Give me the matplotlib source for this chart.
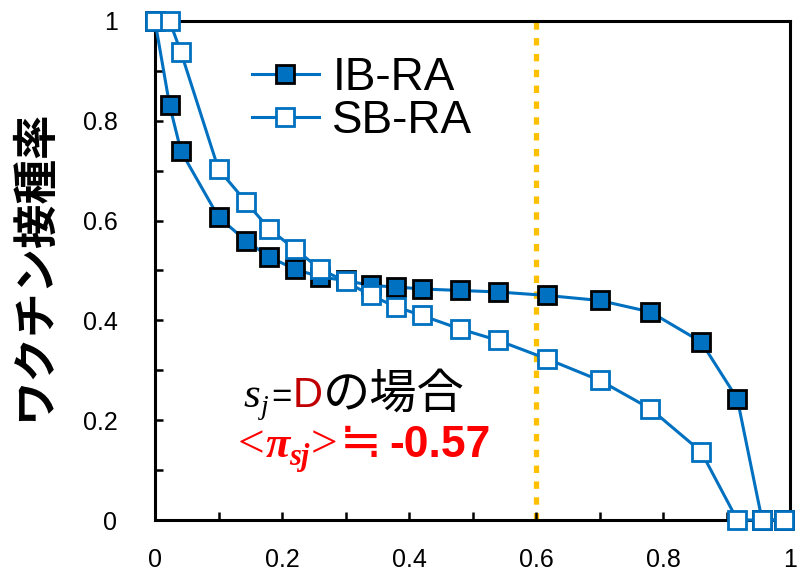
import matplotlib
matplotlib.use("Agg")
import matplotlib.pyplot as plt
from matplotlib.ticker import MultipleLocator, FuncFormatter

plt.rcParams['font.family'] = ['Liberation Sans', 'Noto Sans CJK JP', 'DejaVu Sans']

# ---- data ----
x_vals = [0, 0.023, 0.041, 0.10, 0.143, 0.18, 0.22, 0.26, 0.30, 0.34, 0.38,
          0.42, 0.48, 0.54, 0.617, 0.70, 0.78, 0.86, 0.917, 0.956, 0.99]
ib_ra = [1.0, 0.831, 0.739, 0.607, 0.56, 0.527, 0.503, 0.487, 0.48, 0.47, 0.467,
         0.463, 0.46, 0.457, 0.45, 0.44, 0.417, 0.357, 0.243, 0.0, 0.0]
sb_ra = [1.0, 1.0, 0.937, 0.703, 0.638, 0.583, 0.543, 0.503, 0.478, 0.45, 0.427,
         0.41, 0.383, 0.36, 0.323, 0.28, 0.223, 0.137, 0.0, 0.0, 0.0]
series_names = ["IB-RA", "SB-RA"]
threshold_x = 0.6
x_ticks = [0, 0.2, 0.4, 0.6, 0.8, 1.0]
y_ticks = [0, 0.2, 0.4, 0.6, 0.8, 1.0]
y_label = "ワクチン接種率"

BLUE = "#0070C0"

fig = plt.figure(figsize=(7.98, 5.73), dpi=100)
ax = fig.add_axes([155/798, 53/573, 635/798, 499/573])

ax.axvline(threshold_x, color="#FFC000", lw=3.8, linestyle=(0, (1.4, 1.6)),
           dash_capstyle="butt", zorder=1)

ax.plot(x_vals, ib_ra, color=BLUE, lw=2.2, marker="s", markersize=13,
        markerfacecolor=BLUE, markeredgecolor="black", markeredgewidth=2.0,
        clip_on=False, zorder=3, label=series_names[0])
ax.plot(x_vals, sb_ra, color=BLUE, lw=2.2, marker="s", markersize=13,
        markerfacecolor="white", markeredgecolor=BLUE, markeredgewidth=2.0,
        clip_on=False, zorder=4, label=series_names[1])

ax.set_xlim(0, 1)
ax.set_ylim(0, 1)
ax.set_xticks(x_ticks)
ax.set_yticks(y_ticks)
fmt = FuncFormatter(lambda v, p: "0" if v == 0 else ("1" if v == 1 else f"{v:.1f}"))
ax.xaxis.set_major_formatter(fmt)
ax.yaxis.set_major_formatter(fmt)
ax.xaxis.set_minor_locator(MultipleLocator(0.1))
ax.yaxis.set_minor_locator(MultipleLocator(0.1))
ax.tick_params(which="both", direction="in", length=6, width=1.8, top=False, right=False)
ax.tick_params(axis="x", which="major", labelsize=18, pad=20)
ax.tick_params(axis="y", which="major", labelsize=18, pad=27)
for s in ax.spines.values():
    s.set_linewidth(2.2)
    s.set_color("black")

ax.set_ylabel(y_label, fontsize=32, fontweight="bold", family=["Noto Sans CJK JP"])
ax.yaxis.set_label_coords(-0.19, 0.51)
ax.yaxis.label.set_verticalalignment("center")

leg = ax.legend(loc="upper left", bbox_to_anchor=(0.153, 0.93), frameon=False,
                fontsize=33, handlelength=1.45, handletextpad=0.3,
                labelspacing=-0.02, borderpad=0, borderaxespad=0)

# ---- annotation text built from pieces ----
fig.canvas.draw()
renderer = fig.canvas.get_renderer()
W, H = fig.bbox.width, fig.bbox.height

def run_text(x0, y0, pieces):
    xd, yd = ax.transData.transform((x0, y0))
    for s, kw, dy, gap in pieces:
        t = fig.text(xd / W, (yd + dy) / H, s, ha="left", va="baseline", **kw)
        bb = t.get_window_extent(renderer)
        xd = bb.x1 + gap

SERIF = ["Liberation Serif", "DejaVu Serif"]
CJK = ["Noto Sans CJK JP", "DejaVu Sans"]
SYM = ["DejaVu Sans", "Noto Sans CJK JP"]
RED = "#FF0000"
run_text(0.14, 0.226, [
    ("s", dict(family=SERIF, style="italic", fontsize=31, color="black"), 0, 0),
    ("j", dict(family=SERIF, style="italic", fontsize=20, color="black"), -7, 3),
    ("=", dict(family=["Liberation Sans"], fontsize=25, color="black"), 0, 1),
    ("D", dict(family=["Liberation Sans"], fontsize=30, color="#C00000"), 0, 0),
    ("の場合", dict(family=CJK, fontsize=34, color="black"), 0, 0),
])
run_text(0.13, 0.126, [
    ("<", dict(family=SERIF, fontsize=34, color=RED), 0, 1),
    ("π", dict(family=SERIF, style="italic", weight="bold", fontsize=32, color=RED), 0, 0),
    ("sj", dict(family=SERIF, style="italic", weight="bold", fontsize=22, color=RED), -8, 1),
    (">", dict(family=SERIF, fontsize=34, color=RED), 0, 2),
    ("≒", dict(family=SYM, fontsize=36, color=RED), 0, 8),
    ("-0.57", dict(family=["Liberation Sans"], weight="bold", fontsize=32, color=RED), 0, 0),
])

fig.savefig("out.png", dpi=100)
